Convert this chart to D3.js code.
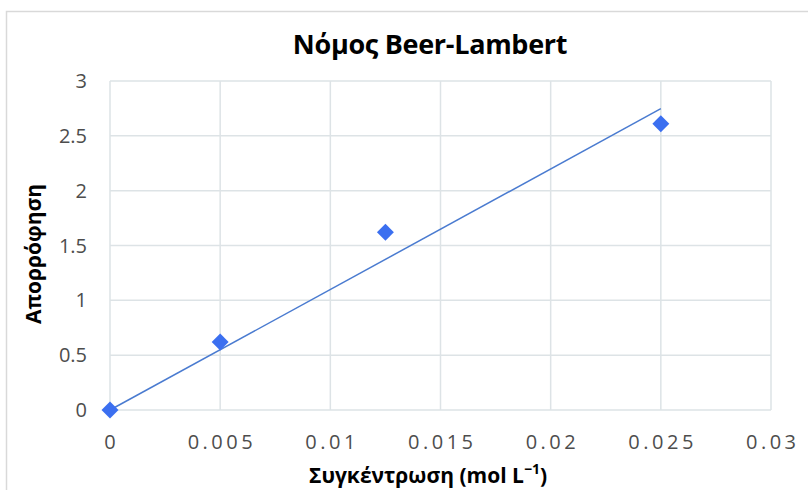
<!DOCTYPE html>
<html><head><meta charset="utf-8">
<script src="https://cdn.jsdelivr.net/npm/d3@7"></script>
<style>body{margin:0;background:#fff;} svg{display:block;}</style>
</head><body>
<script>
const title = "Νόμος Beer-Lambert";
const xTitle = "Συγκέντρωση (mol L";
const yTitle = "Απορρόφηση";
const concentration = [0, 0.005, 0.0125, 0.025];
const absorbance = [0, 0.62, 1.62, 2.61];
const xTicks = [0, 0.005, 0.01, 0.015, 0.02, 0.025, 0.03];
const yTicks = [0, 0.5, 1, 1.5, 2, 2.5, 3];

const W = 808, H = 490;
const svg = d3.select("body").append("svg").attr("width", W).attr("height", H);
svg.append("rect").attr("x", 6.5).attr("y", 11.5).attr("width", W + 10).attr("height", H + 10)
  .attr("fill", "#fff").attr("stroke", "#d9d9d9").attr("stroke-width", 1.5);

const x = d3.scaleLinear().domain([0, 0.03]).range([110, 771]);
const y = d3.scaleLinear().domain([0, 3]).range([410, 81]);
const font = "'Open Sans', sans-serif";

// gridlines
svg.append("g").selectAll("line.h").data(yTicks).join("line")
  .attr("x1", x(0)).attr("x2", x(0.03)).attr("y1", d => y(d)).attr("y2", d => y(d))
  .attr("stroke", "#dde3e6").attr("stroke-width", 1.5);
svg.append("g").selectAll("line.v").data(xTicks).join("line")
  .attr("y1", y(0)).attr("y2", y(3)).attr("x1", d => x(d)).attr("x2", d => x(d))
  .attr("stroke", "#dde3e6").attr("stroke-width", 1.5);

// tick labels
svg.append("g").selectAll("text").data(yTicks).join("text")
  .attr("x", 87).attr("y", d => y(d)).attr("dy", "0.35em").attr("text-anchor", "end")
  .attr("font-family", font).attr("font-size", 20).attr("fill", "#4d4d4d")
  .text(d => d);
const ls = 3.5;
svg.append("g").selectAll("text").data(xTicks).join("text")
  .attr("x", d => x(d) + ls / 2).attr("y", 449).attr("text-anchor", "middle")
  .attr("font-family", font).attr("font-size", 20).attr("fill", "#4d4d4d")
  .attr("letter-spacing", ls)
  .text(d => d);

// trendline: linear regression through origin
const slope = d3.sum(concentration, (c, i) => c * absorbance[i]) / d3.sum(concentration, c => c * c);
const xmax = d3.max(concentration);
svg.append("line").attr("x1", x(0)).attr("y1", y(0)).attr("x2", x(xmax)).attr("y2", y(slope * xmax))
  .attr("stroke", "#4a7bd0").attr("stroke-width", 1.5);

// markers
svg.append("g").selectAll("path").data(concentration).join("path")
  .attr("transform", (d, i) => `translate(${x(d)},${y(absorbance[i])}) rotate(45)`)
  .attr("d", "M-6,-6H6V6H-6Z")
  .attr("fill", "#3b6ff0");

// titles
svg.append("text").attr("x", 430).attr("y", 54).attr("text-anchor", "middle")
  .attr("font-family", font).attr("font-weight", "bold").attr("font-size", 27).attr("fill", "#000")
  .attr("letter-spacing", -0.3)
  .text(title);
const xt = svg.append("text").attr("x", 428).attr("y", 483).attr("text-anchor", "middle")
  .attr("font-family", font).attr("font-weight", "bold").attr("font-size", 21).attr("fill", "#000");
xt.append("tspan").text(xTitle);
xt.append("tspan").attr("dy", -9).attr("font-size", 14).text("−1");
xt.append("tspan").attr("dy", 9).text(")");
svg.append("text").attr("transform", "translate(41,254) rotate(-90)").attr("text-anchor", "middle")
  .attr("font-family", font).attr("font-weight", "bold").attr("font-size", 21).attr("fill", "#000")
  .text(yTitle);
</script>
</body></html>
